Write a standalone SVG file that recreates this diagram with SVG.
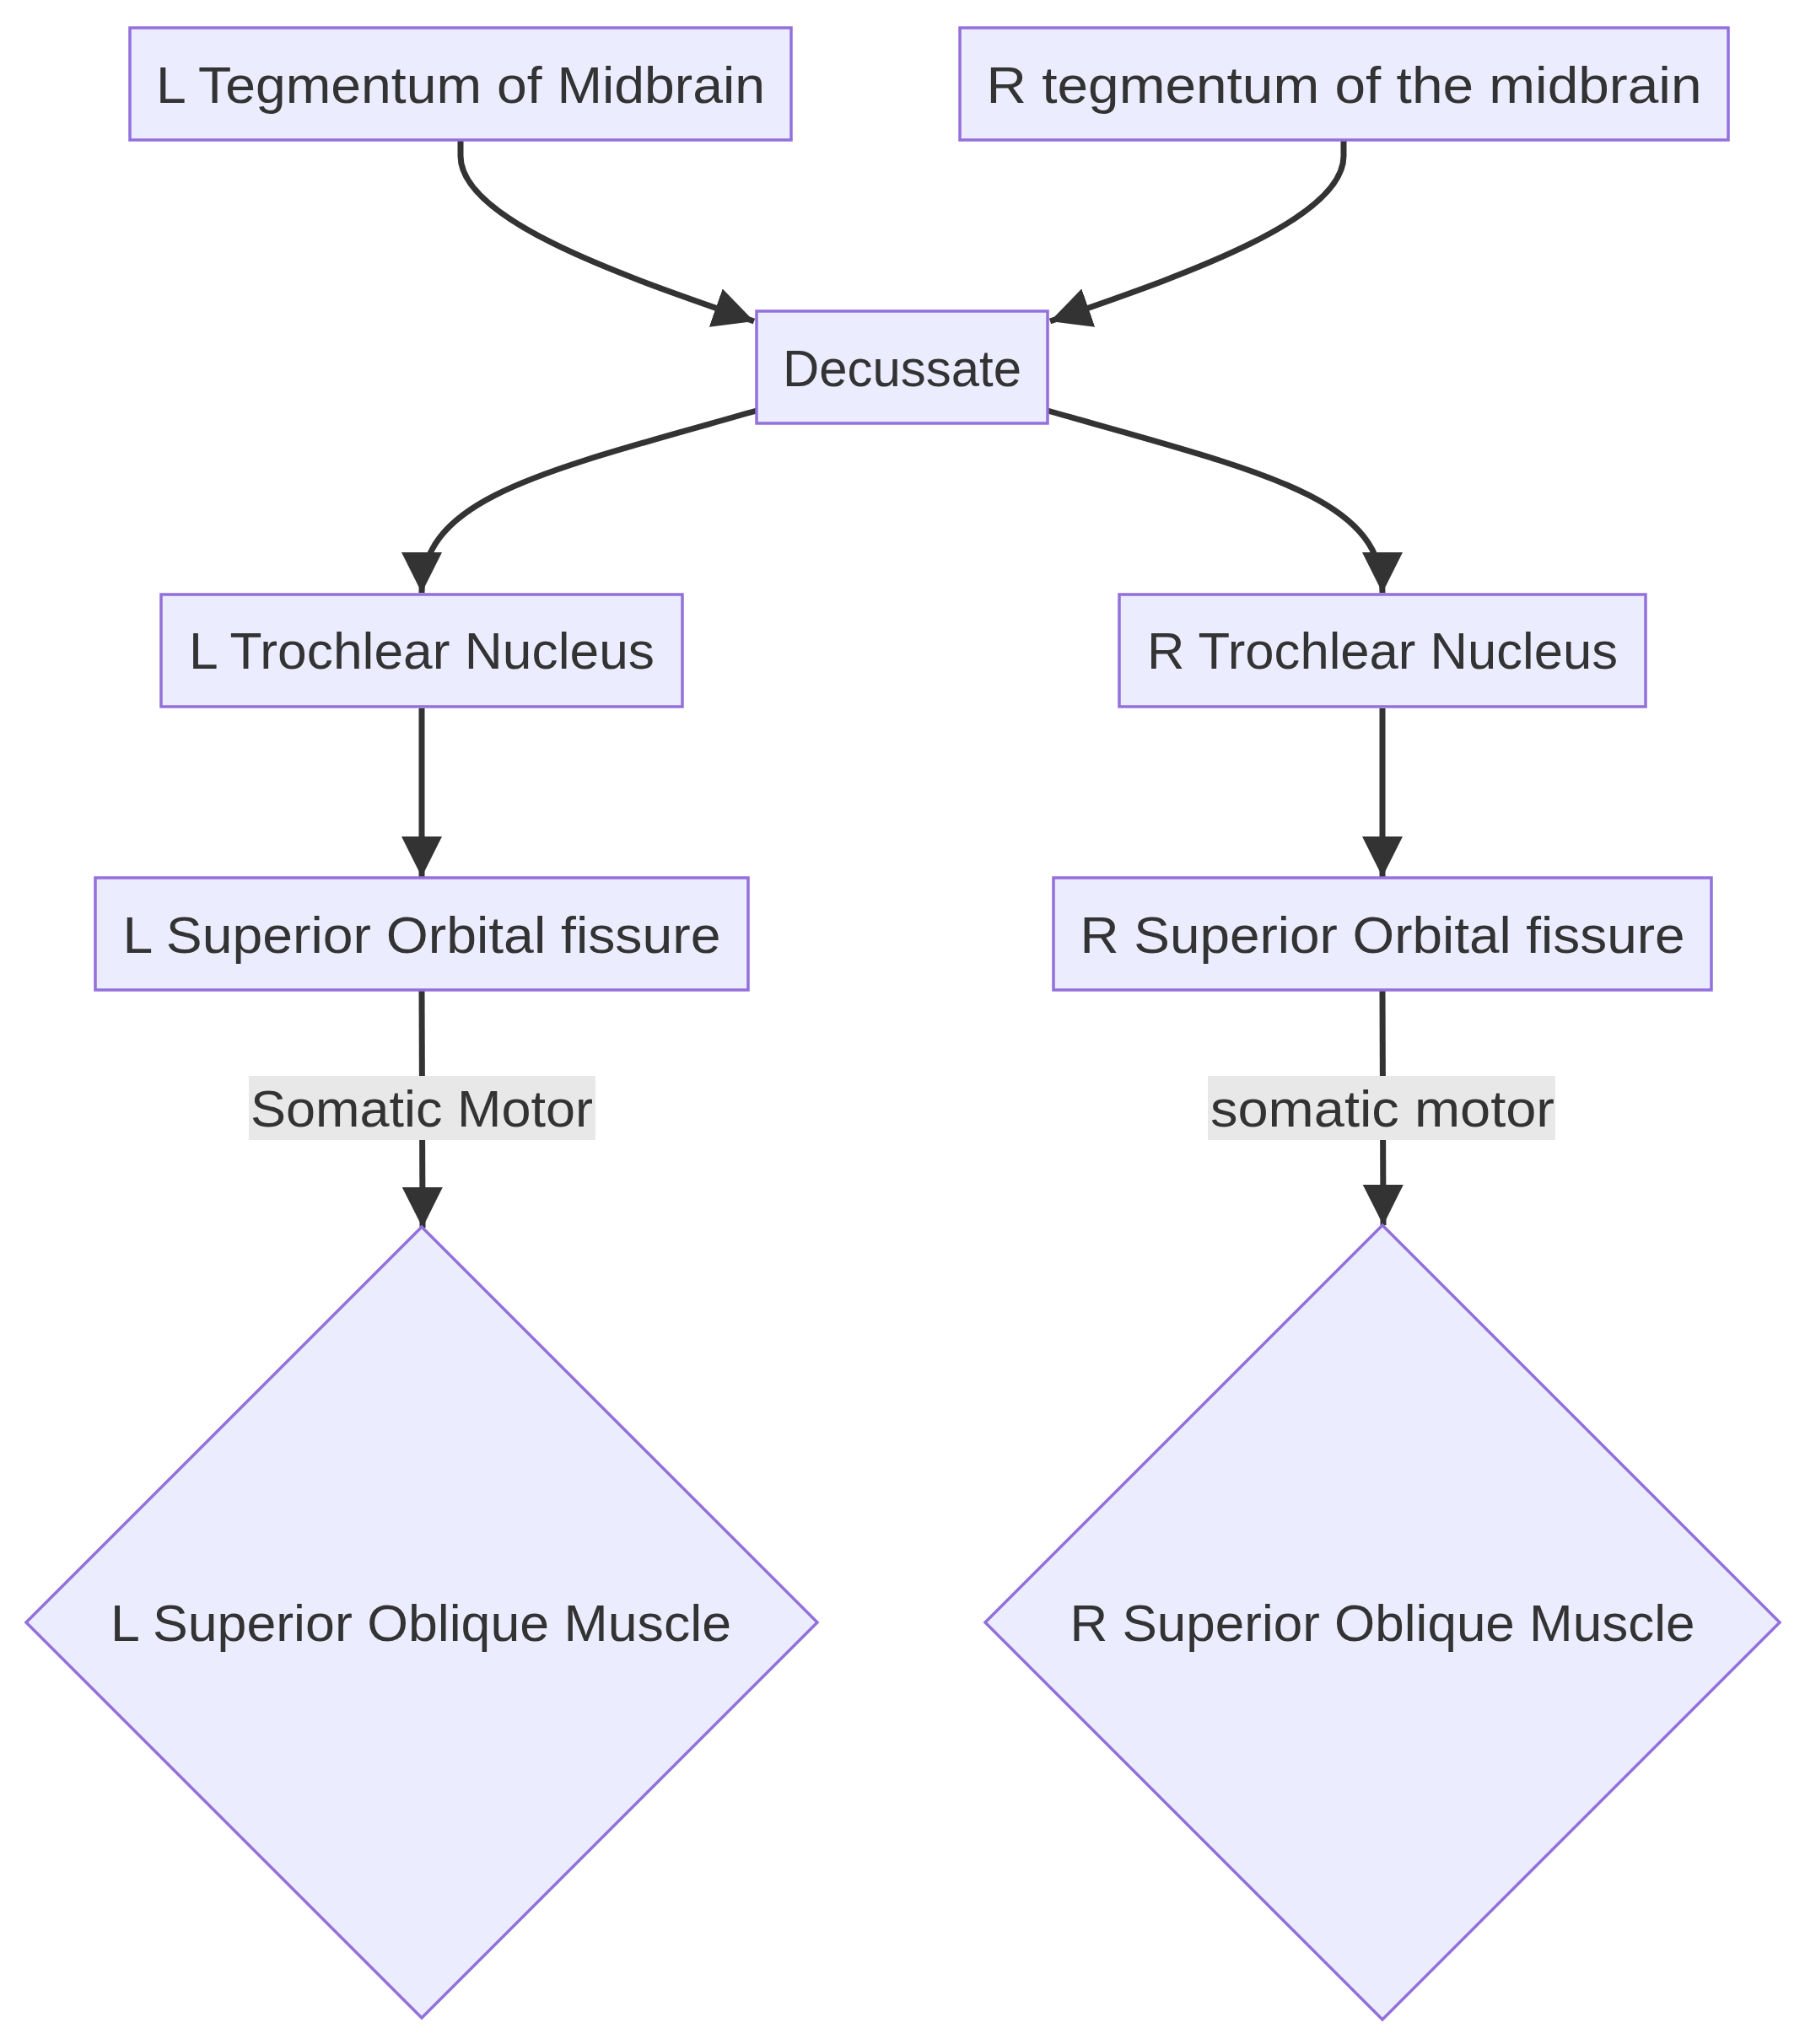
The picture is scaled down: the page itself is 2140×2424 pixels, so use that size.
<svg xmlns="http://www.w3.org/2000/svg" width="2140" height="2424" viewBox="0 0 2140 2424">
<style>
.node rect, .node polygon { fill: #ECECFF; stroke: #9370DB; stroke-width: 3.5; }
.lbl { font-family: "Liberation Sans", Arial, sans-serif; font-size: 62px; fill: #333333; text-anchor: middle; }
.edge { fill: none; stroke: #333333; stroke-width: 7; }
.ebg { fill: #e8e8e8; }
</style>
<defs>
<marker id="arrow" markerUnits="userSpaceOnUse" markerWidth="48" markerHeight="48" viewBox="0 0 10 10" refX="10" refY="5" orient="auto">
<path d="M0,0 L10,5 L0,10 z" fill="#333333"/>
</marker>
</defs>
<rect width="2140" height="2424" fill="#ffffff"/>
<g id="connectors">
<path class="edge" d="M546,167 L546,185 C546,265 760,334 894,381" marker-end="url(#arrow)"/>
<path class="edge" d="M1593,167 L1593,185 C1593,265 1379,334 1245,381" marker-end="url(#arrow)"/>
<path class="edge" d="M897,487 C640,560 500,590 500,703" marker-end="url(#arrow)"/>
<path class="edge" d="M1242,487 C1499,560 1639,590 1639,703" marker-end="url(#arrow)"/>
<path class="edge" d="M500,840 L500,1040" marker-end="url(#arrow)"/>
<path class="edge" d="M1639,840 L1639,1040" marker-end="url(#arrow)"/>
<path class="edge" d="M500,1175 L501,1456" marker-end="url(#arrow)"/>
<path class="edge" d="M1639,1175 L1640,1453" marker-end="url(#arrow)"/>
<g id="label-left">
<rect class="ebg" x="295" y="1276" width="411" height="76"/>
<text class="lbl" x="500" y="1336" textLength="406" lengthAdjust="spacingAndGlyphs">Somatic Motor</text>
</g>
<g id="label-right">
<rect class="ebg" x="1432" y="1276" width="412" height="76"/>
<text class="lbl" x="1639" y="1336" textLength="408" lengthAdjust="spacingAndGlyphs">somatic motor</text>
</g>
</g>
<g id="L_Tegmentum" class="node">
<rect x="154" y="33" width="784" height="133"/>
<text class="lbl" x="546" y="122" textLength="722" lengthAdjust="spacingAndGlyphs">L Tegmentum of Midbrain</text>
</g>
<g id="R_Tegmentum" class="node">
<rect x="1138" y="33" width="911" height="133"/>
<text class="lbl" x="1593.5" y="122" textLength="848" lengthAdjust="spacingAndGlyphs">R tegmentum of the midbrain</text>
</g>
<g id="Decussate" class="node">
<rect x="897" y="369" width="345" height="133"/>
<text class="lbl" x="1069.5" y="458" textLength="283" lengthAdjust="spacingAndGlyphs">Decussate</text>
</g>
<g id="L_Trochlear" class="node">
<rect x="191" y="705" width="618" height="133"/>
<text class="lbl" x="500" y="793" textLength="552" lengthAdjust="spacingAndGlyphs">L Trochlear Nucleus</text>
</g>
<g id="R_Trochlear" class="node">
<rect x="1327" y="705" width="624" height="133"/>
<text class="lbl" x="1639" y="793" textLength="558" lengthAdjust="spacingAndGlyphs">R Trochlear Nucleus</text>
</g>
<g id="L_SOF" class="node">
<rect x="113" y="1041" width="774" height="133"/>
<text class="lbl" x="500" y="1130" textLength="709" lengthAdjust="spacingAndGlyphs">L Superior Orbital fissure</text>
</g>
<g id="R_SOF" class="node">
<rect x="1249" y="1041" width="780" height="133"/>
<text class="lbl" x="1639" y="1130" textLength="717" lengthAdjust="spacingAndGlyphs">R Superior Orbital fissure</text>
</g>
<g id="L_SOM" class="node">
<polygon points="500,1455 969,1924 500,2393 31,1924"/>
<text class="lbl" x="499" y="1946" textLength="736" lengthAdjust="spacingAndGlyphs">L Superior Oblique Muscle</text>
</g>
<g id="R_SOM" class="node">
<polygon points="1639,1453 2110,1924 1639,2395 1168,1924"/>
<text class="lbl" x="1639" y="1946" textLength="741" lengthAdjust="spacingAndGlyphs">R Superior Oblique Muscle</text>
</g>
</svg>
